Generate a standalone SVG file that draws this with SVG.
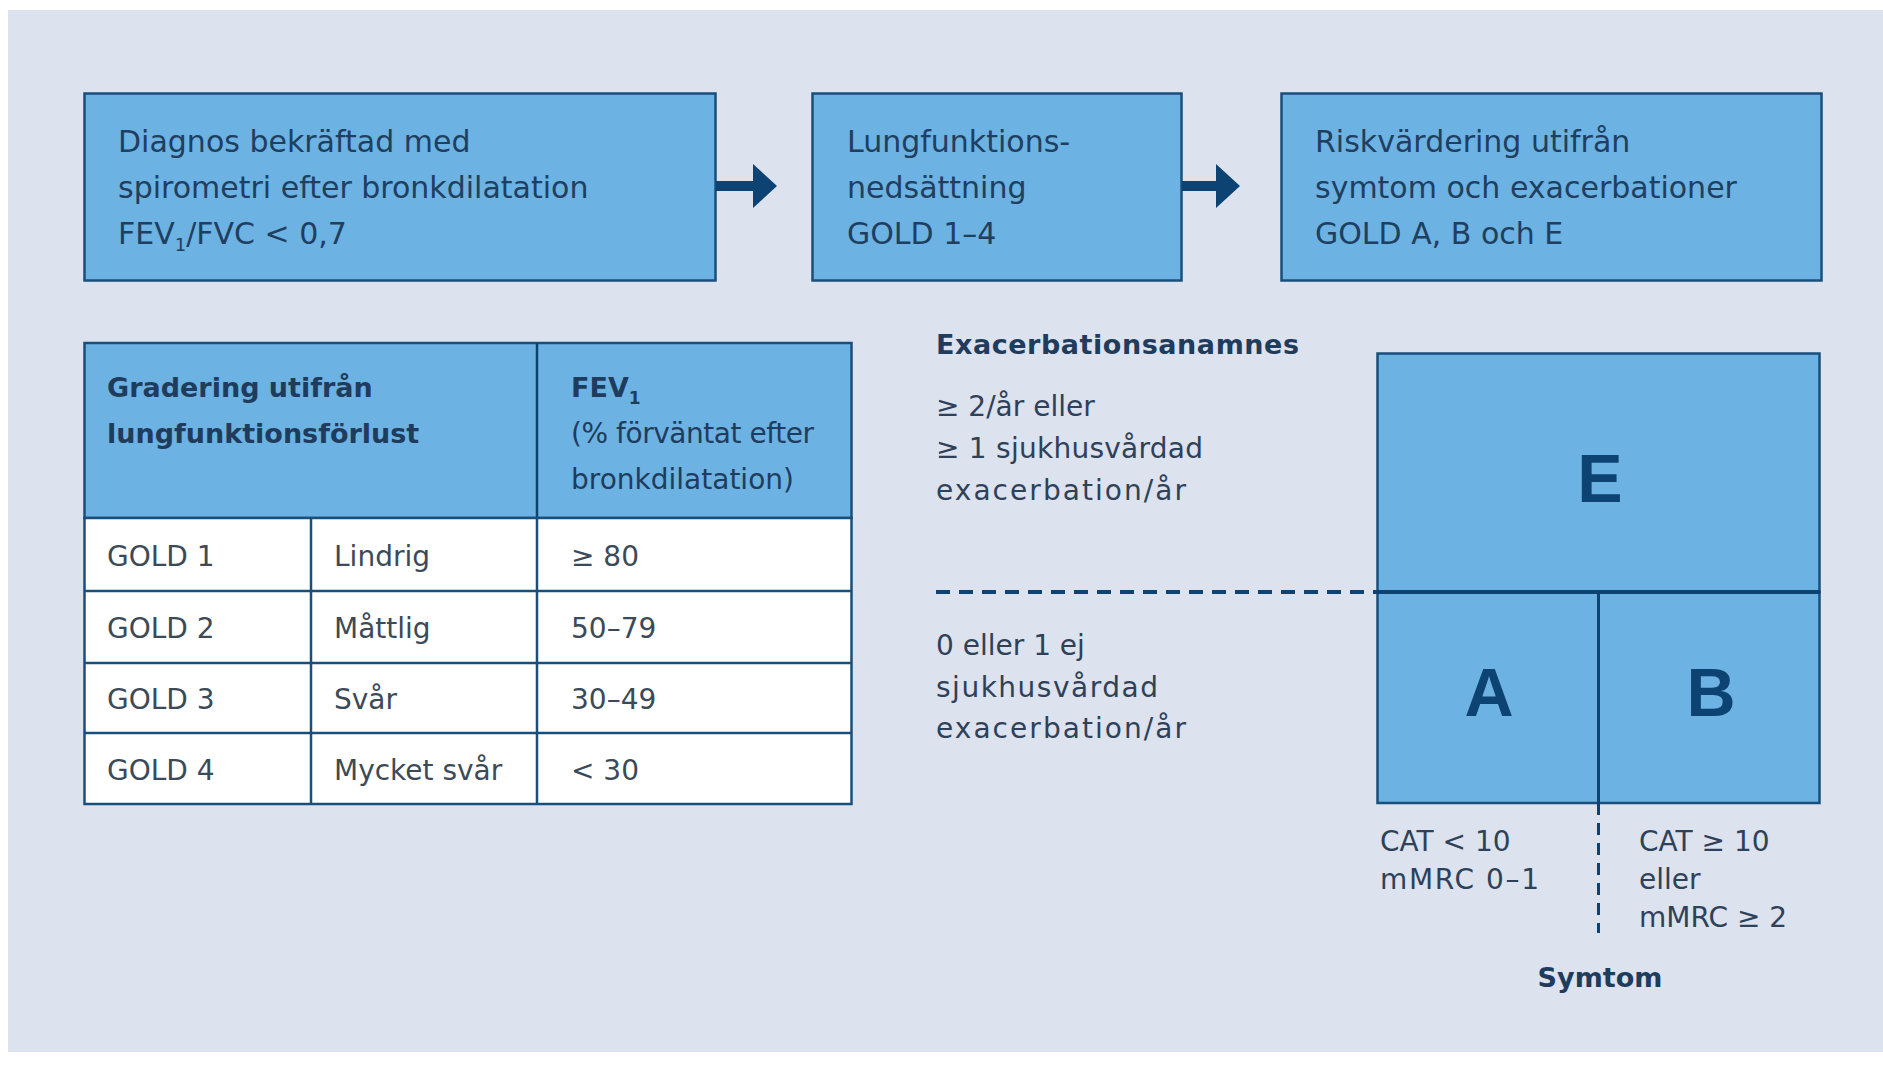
<svg xmlns="http://www.w3.org/2000/svg" width="1883" height="1084" viewBox="0 0 1883 1084">
<defs>
<style>
.bg{fill:#dce2ee}
.box{fill:#6cb2e2;stroke:#1a4f7c;stroke-width:2.5}
.cell{fill:#ffffff;stroke:#1a4f7c;stroke-width:2.5}
.t{font-family:"DejaVu Sans","Liberation Sans",sans-serif;fill:#203f60}
.bt{font-size:30px}
.tb{font-size:28px;fill:#3c4a58}
.hd{font-size:27px;font-weight:bold;fill:#1f3c5c}
.hr{font-size:28px;fill:#1f3c5c}
.rt{font-size:28px;fill:#2e4158}
.big{font-family:"Liberation Sans","DejaVu Sans",sans-serif;font-weight:bold;font-size:68px;fill:#0d4373;text-anchor:middle}
.arrow{fill:#0d4373}
.dash{stroke:#0d4373;stroke-width:4;stroke-dasharray:14 9;fill:none}
.vdash{stroke:#0d4373;stroke-width:3;stroke-dasharray:12 8;fill:none}
.solid{stroke:#0d4373;fill:none}
</style>
</defs>
<rect x="0" y="0" width="1883" height="1084" fill="#ffffff"/>
<rect class="bg" x="8" y="10" width="1875" height="1042"/>

<g id="node-diagnos">
<rect class="box" x="84.5" y="93.5" width="631" height="187"/>
<text class="t bt" x="118" y="152">Diagnos bekräftad med</text>
<text class="t bt" x="118" y="198">spirometri efter bronkdilatation</text>
<text class="t bt" x="118" y="244">FEV<tspan font-size="18" dy="7">1</tspan><tspan dy="-7">/FVC &lt; 0,7</tspan></text>
</g>

<g id="node-lungfunktion">
<rect class="box" x="812.5" y="93.5" width="369" height="187"/>
<text class="t bt" x="847" y="152">Lungfunktions-</text>
<text class="t bt" x="847" y="198">nedsättning</text>
<text class="t bt" x="847" y="244">GOLD 1–4</text>
</g>

<g id="node-risk">
<rect class="box" x="1281.5" y="93.5" width="540" height="187"/>
<text class="t bt" x="1315" y="152">Riskvärdering utifrån</text>
<text class="t bt" x="1315" y="198">symtom och exacerbationer</text>
<text class="t bt" x="1315" y="244">GOLD A, B och E</text>
</g>

<g id="connectors">
<path class="arrow" d="M716 181 H753 V164 L777 186 L753 208 V191 H716 Z"/>
<path class="arrow" d="M1182 181 H1216 V164 L1240 186 L1216 208 V191 H1182 Z"/>
</g>

<g id="table">
<rect class="box" x="84.5" y="343" width="767" height="175"/>
<line class="solid" x1="537" y1="343" x2="537" y2="518" stroke-width="2.5"/>
<rect class="cell" x="84.5" y="518" width="767" height="286"/>
<g stroke="#1a4f7c" stroke-width="2.5">
<line x1="84.5" y1="591" x2="851.5" y2="591"/>
<line x1="84.5" y1="663" x2="851.5" y2="663"/>
<line x1="84.5" y1="733" x2="851.5" y2="733"/>
<line x1="311" y1="518" x2="311" y2="804"/>
<line x1="537" y1="518" x2="537" y2="804"/>
</g>
<text class="t hd" x="107" y="397">Gradering utifrån</text>
<text class="t hd" x="107" y="443">lungfunktionsförlust</text>
<text class="t hd" x="571" y="397">FEV<tspan font-size="17" dy="7">1</tspan></text>
<text class="t hr" x="571" y="443" textLength="243">(% förväntat efter</text>
<text class="t hr" x="571" y="489">bronkdilatation)</text>
<text class="t tb" x="107" y="566">GOLD 1</text>
<text class="t tb" x="334" y="566">Lindrig</text>
<text class="t tb" x="571" y="566">≥ 80</text>
<text class="t tb" x="107" y="638">GOLD 2</text>
<text class="t tb" x="334" y="638">Måttlig</text>
<text class="t tb" x="571" y="638">50–79</text>
<text class="t tb" x="107" y="709">GOLD 3</text>
<text class="t tb" x="334" y="709">Svår</text>
<text class="t tb" x="571" y="709">30–49</text>
<text class="t tb" x="107" y="780">GOLD 4</text>
<text class="t tb" x="334" y="780">Mycket svår</text>
<text class="t tb" x="571" y="780">&lt; 30</text>
</g>

<g id="exacerbation-labels">
<text class="t hd" x="936" y="354" textLength="363">Exacerbationsanamnes</text>
<text class="t rt" x="936" y="416">≥ 2/år eller</text>
<text class="t rt" x="936" y="458" textLength="267">≥ 1 sjukhusvårdad</text>
<text class="t rt" x="936" y="500" textLength="250">exacerbation/år</text>
<text class="t rt" x="936" y="655">0 eller 1 ej</text>
<text class="t rt" x="936" y="697" textLength="222">sjukhusvårdad</text>
<text class="t rt" x="936" y="738" textLength="250">exacerbation/år</text>
</g>

<g id="node-E">
<rect class="box" x="1377.5" y="353.5" width="442" height="238.5"/>
<text class="big" x="1600" y="502">E</text>
</g>
<g id="node-A">
<rect class="box" x="1377.5" y="592" width="221" height="211"/>
<text class="big" x="1489" y="716">A</text>
</g>
<g id="node-B">
<rect class="box" x="1598.5" y="592" width="221" height="211"/>
<text class="big" x="1711" y="716">B</text>
</g>

<g id="dividers">
<line class="dash" x1="936" y1="592" x2="1377" y2="592"/>
<line class="solid" x1="1377" y1="592" x2="1820" y2="592" stroke-width="4"/>
<line class="solid" x1="1598.5" y1="592" x2="1598.5" y2="803" stroke-width="3"/>
<line class="vdash" x1="1598.5" y1="803" x2="1598.5" y2="933"/>
</g>

<g id="symptom-labels">
<text class="t rt" x="1380" y="851">CAT &lt; 10</text>
<text class="t rt" x="1380" y="889" textLength="159">mMRC 0–1</text>
<text class="t rt" x="1639" y="851">CAT ≥ 10</text>
<text class="t rt" x="1639" y="889">eller</text>
<text class="t rt" x="1639" y="927">mMRC ≥ 2</text>
<text class="t hd" x="1600" y="987" text-anchor="middle">Symtom</text>
</g>
</svg>
